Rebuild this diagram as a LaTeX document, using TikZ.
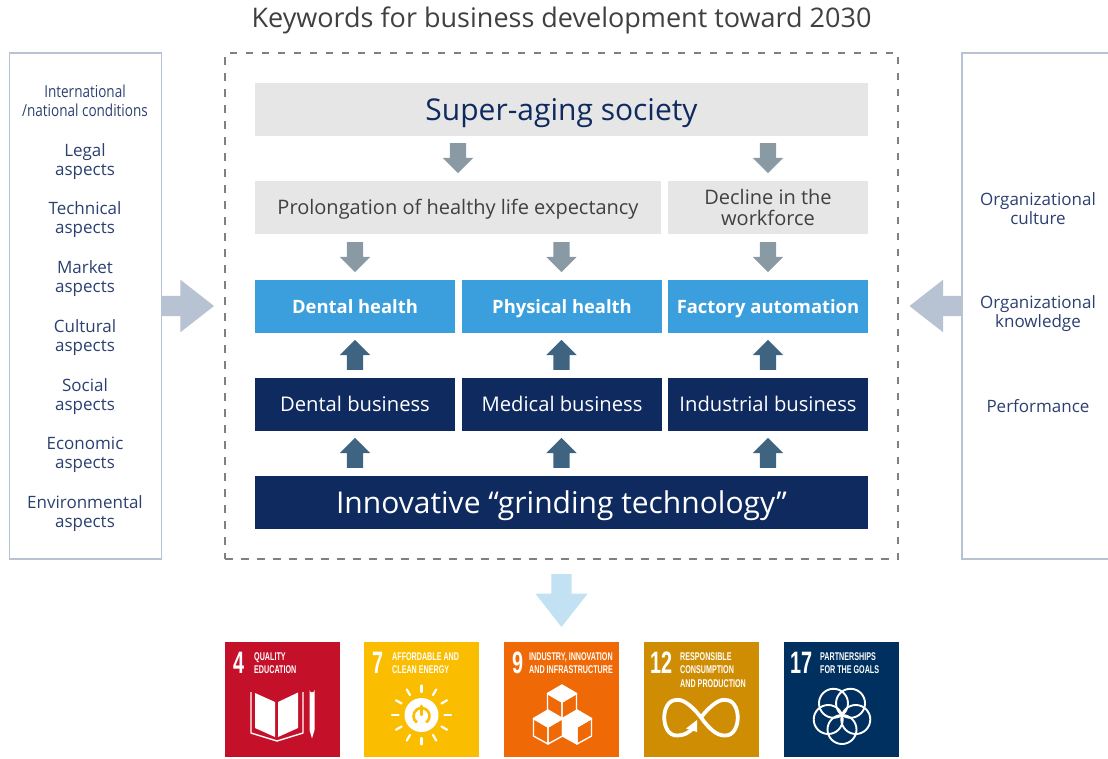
\documentclass[tikz,border=0pt]{standalone}
\usepackage{fontspec}
\setmainfont{Open Sans}
\newfontfamily\sdgfont[FakeStretch=0.64]{Liberation Sans}
\newfontfamily\narrowfont[FakeStretch=0.82]{Open Sans}
\usetikzlibrary{arrows,shapes}
\definecolor{navy}{HTML}{0F2A5F}
\definecolor{inktext}{HTML}{2B4070}
\definecolor{skyblue}{HTML}{3A9FDC}
\definecolor{palegray}{HTML}{E6E6E6}
\definecolor{sidegray}{HTML}{B7C2D2}
\definecolor{downgray}{HTML}{8A9AA5}
\definecolor{upblue}{HTML}{3F6482}
\definecolor{paleblue}{HTML}{C2E1F3}
\definecolor{sunyellow}{HTML}{FBBD00}
\tikzstyle{bar}=[rectangle,inner sep=0pt,minimum height=53pt,align=center,text depth=0pt]
\tikzstyle{gray bar}=[bar,fill=palegray,text=black!75]
\tikzstyle{sky bar}=[bar,fill=skyblue,text=white,text height=13.8pt,font=\fontsize{18.4}{20}\selectfont\bfseries]
\tikzstyle{navy bar}=[bar,fill=navy,text=white]
\tikzstyle{block}=[single arrow,draw=none,inner sep=8pt,minimum height=30pt,minimum width=30pt,single arrow head extend=7pt,single arrow tip angle=90]
\tikzstyle{big block}=[block,inner sep=10pt,minimum height=53pt,minimum width=52pt,single arrow head extend=16pt,single arrow tip angle=76]
\tikzstyle{side text}=[align=center,text=inktext,font=\fontsize{17}{18.8}\selectfont,text height=31.5pt,text depth=0pt]
\tikzstyle{tile}=[rectangle,inner sep=0pt,minimum size=115pt]
\tikzstyle{tile num}=[anchor=west,inner sep=0pt,text=white,font=\sdgfont\bfseries\fontsize{31}{31}\selectfont]
\tikzstyle{tile text}=[anchor=north west,inner sep=0pt,align=left,text=white,font=\sdgfont\bfseries\fontsize{11.2}{13.8}\selectfont]
\tikzstyle{icon}=[draw=white,line width=1.4pt,line join=round]
\tikzset{
  pics/cube/.style={code={
    \path[icon,fill=white] (0,0) -- (14.5,8.5) -- (0,17) -- (-14.5,8.5) -- cycle;
    \draw[icon,fill=#1] (-14.5,8.5) -- (-14.5,26) -- (0,34) -- (0,17) -- cycle;
    \draw[icon,fill=#1] (14.5,8.5) -- (14.5,26) -- (0,34) -- (0,17) -- cycle;
  }}
}
\begin{document}
\begin{tikzpicture}[x=1pt,y=-1pt]
    \useasboundingbox (0,0) rectangle (1108,758);
    \node[inner sep=0pt,text=black!75,font=\fontsize{27}{30}\selectfont] (title) at (561.5,20) {Keywords for business development toward 2030};

    % Frames round the middle
    \node[rectangle,draw=sidegray,line width=1.2pt,minimum width=152pt,minimum height=506pt,inner sep=0pt] (left) at (85.5,306) {};
    \draw[draw=sidegray,line width=1.2pt] (1108,53) coordinate (rtop) -- (962,53) -- (962,559) -- (1108,559) coordinate (rbot);
    \node[rectangle,draw=black!50,dash pattern=on 7.5pt off 8.5pt,line width=2.6pt,minimum width=673pt,minimum height=506pt,inner sep=0pt] (frame) at (561.5,306) {};

    % Now the bars
    \node[gray bar,minimum width=613pt,text height=21.6pt,font=\fontsize{30}{32}\selectfont,text=navy] (super) at (561.5,109.5) {Super-aging society};
    \foreach \pos/\name/\w/\h/\txt in {{(458,207.5)/prolong/406/14.4/Prolongation of healthy life expectancy}, {(768,207.5)/decline/200/35.4/Decline in the\\workforce}}
        \node[gray bar,minimum width=\w pt,text height=\h pt,font=\fontsize{20}{21}\selectfont] (\name) at \pos {\txt};
    \foreach \pos/\name/\txt in {{(355,306.5)/dental/Dental health}, {(562,306.5)/physical/Physical health}, {(768,306.5)/factory/Factory automation}}
        \node[sky bar,minimum width=200pt] (\name) at \pos {\txt};
    \foreach \pos/\name/\txt in {{(355,404.5)/dentalbiz/Dental business}, {(562,404.5)/medical/Medical business}, {(768,404.5)/industrial/Industrial business}}
        \node[navy bar,minimum width=200pt,text height=14.4pt,font=\fontsize{20.2}{21}\selectfont] (\name) at \pos {\txt};
    \node[navy bar,minimum width=613pt,text height=21pt,font=\fontsize{30}{32}\selectfont] (grinding) at (561.5,502.5) {Innovative “grinding technology”};

    % Block arrows between the bars
    \foreach \pos/\name in {{(458,154)/da1}, {(768,154)/da2}, {(355,253)/da3}, {(561.5,253)/da4}, {(768,253)/da5}}
        \node[block,fill=downgray,shape border rotate=270] (\name) at \pos {};
    \foreach \pos/\name in {{(355,359)/ua1}, {(561.5,359)/ua2}, {(768,359)/ua3}, {(355,457)/ua4}, {(561.5,457)/ua5}, {(768,457)/ua6}}
        \node[block,fill=upblue,shape border rotate=90] (\name) at \pos {};
    \node[big block,fill=sidegray] (inleft) at (181,306) {};
    \node[big block,fill=sidegray,shape border rotate=180] (inright) at (942.5,306) {};
    \node[big block,fill=paleblue,shape border rotate=270] (togoals) at (561.5,594) {};

    % Side texts
    \node[side text,text height=30.4pt,font=\narrowfont\fontsize{16.5}{18.8}\selectfont] (intl) at (85,101) {International\\/national conditions};
    \foreach \y/\name/\txt in {159.5/legal/Legal, 218/tech/Technical, 277/market/Market, 335.5/cultural/Cultural, 394.5/social/Social, 453/economic/Economic, 512/envir/Environmental}
        \node[side text] (\name) at (85,\y) {\txt\\aspects};
    \foreach \y/\name/\h/\txt in {208.5/culture/31.5/Organizational\\culture, 311.5/knowledge/31.5/Organizational\\knowledge, 406/perform/12.9/Performance}
        \node[side text,text height=\h pt] (\name) at (1038,\y) {\txt};

    % Goal tiles
    \foreach \x/\name/\col in {282/t4/C5102A, 421.5/t7/FBBD00, 561.5/t9/EF6A06, 701.5/t12/CF8D04, 841.5/t17/00305F} {
        \definecolor{tilecol}{HTML}{\col}
        \node[tile,fill=tilecol] (\name) at (\x,699.5) {};
    }
    \foreach \x/\num/\name in {233/4/n4, 372/7/n7, 512/9/n9, 650/12/n12, 790/17/n17}
        \node[tile num] (\name) at (\x,663) {\num};
    \foreach \x/\name/\txt in {254/c4/QUALITY\\EDUCATION, 392/c7/AFFORDABLE AND\\CLEAN ENERGY, 529/c9/INDUSTRY{,} INNOVATION\\AND INFRASTRUCTURE, 680/c12/RESPONSIBLE\\CONSUMPTION\\AND PRODUCTION, 820/c17/PARTNERSHIPS\\FOR THE GOALS}
        \node[tile text] (\name) at (\x,652) {\txt};

    % Book and pencil
    \path[fill=white] (255,693) -- (275,702) -- (275,737) -- (255,728) -- cycle;
    \path[fill=white] (298,692.5) -- (278,702) -- (278,737) -- (298,728) -- cycle;
    \draw[icon] (251,692) -- (251,733) -- (277,741) -- (303,733) -- (303,692);
    \path[fill=white] (309.5,690) arc (180:0:2.5) -- (314.5,730) -- (312,738.5) -- (309.5,730) -- cycle;

    % Sun with power sign
    \fill[white] (421.5,715) circle (17);
    \foreach \a in {0,30,...,330}
        \draw[white,line width=2.2pt,line cap=round] (421.5,715) ++(\a:23) -- ++(\a:6.5);
    \draw[sunyellow,line width=2.6pt] (421.5,716) ++(55:8) arc (55:-235:8);
    \draw[sunyellow,line width=2.6pt,line cap=round] (421.5,706) -- (421.5,715);

    % Cubes
    \pic at (562,685) {cube={none}};
    \pic at (548,710) {cube={none}};
    \pic at (577,710) {cube={none}};
    \path[fill=white] (562.5,718.5) -- (562.5,736) -- (577,744) -- (577,727) -- cycle;

    % Infinity loop
    \draw[white,line width=3.8pt] (701,717.5) .. controls (690,703) and (681,699) .. (677,700) .. controls (660,699) and (660,736) .. (677,735.5) .. controls (684,735.5) and (689,733) .. (694,727);
    \draw[white,line width=3.8pt] (701,717.5) .. controls (712,703) and (721,699) .. (725,700) .. controls (742,699) and (742,736) .. (725,735.5) .. controls (716,736) and (708,727) .. (701,717.5);
    \fill[white] (697,720) -- (697,732) -- (686,728.5) -- cycle;

    % Rings
    \foreach \a in {90,162,234,306,18}
        \draw[white,line width=1.9pt] (842,715) ++(\a:14.5) circle (14.5);
\end{tikzpicture}
\end{document}
